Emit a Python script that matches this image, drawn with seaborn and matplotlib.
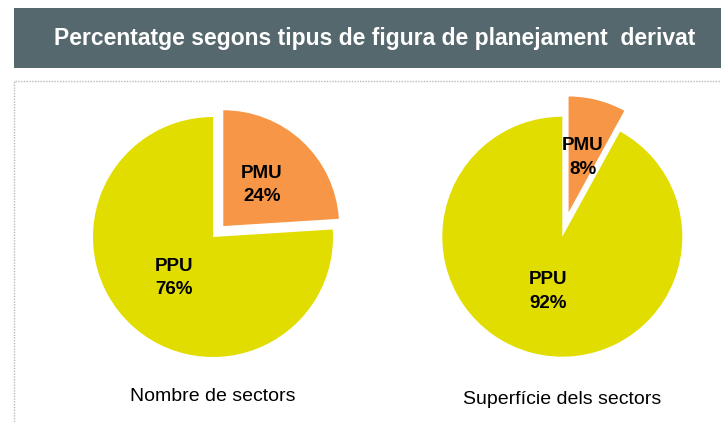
import matplotlib
matplotlib.use("Agg")
import matplotlib.pyplot as plt
from matplotlib.patches import Rectangle
import seaborn as sns

# ---- data ----
categories = ["PMU", "PPU"]
count_pct = [24, 76]      # Nombre de sectors
area_pct = [8, 92]        # Superfície dels sectors
subtitles = ["Nombre de sectors", "Superfície dels sectors"]
title = "Percentatge segons tipus de figura de planejament  derivat"

sns.set_theme(style="white")
plt.rcParams["font.family"] = ["Liberation Sans", "DejaVu Sans"]

palette = ["#f79646", "#e1dd00"]

W, H = 721, 423
fig = plt.figure(figsize=(W / 100, H / 100), dpi=100)
fig.patch.set_facecolor("white")

# title bar
fig.patches.append(Rectangle((14 / W, 1 - 68 / H), 1 - 14 / W, 60 / H,
                             transform=fig.transFigure, facecolor="#55686d",
                             edgecolor="none", zorder=0))
fig.text(375 / W, 1 - 39 / H, title, color="white", fontsize=16.5,
         fontweight="bold", ha="center", va="center")

# dotted frame
fig.patches.append(Rectangle((14 / W, -0.05), 1.2, (H - 81) / H + 0.05,
                             transform=fig.transFigure, facecolor="none",
                             edgecolor="#b8b8b8", linestyle=(0, (1, 1)),
                             linewidth=1.0, zorder=0))

def draw(cx, cy, values, explode, sub, sub_y):
    size = 300
    ax = fig.add_axes([(cx - size / 2) / W, (H - cy - size / 2) / H, size / W, size / H])
    labels = [f"{c}\n{v}%" for c, v in zip(categories, values)]
    wedges, texts = ax.pie(values, labels=labels, colors=palette, startangle=90,
                           counterclock=False, explode=[explode, 0], radius=1,
                           labeldistance=0.47,
                           textprops=dict(fontsize=13.5, fontweight="bold", color="black"),
                           wedgeprops=dict(linewidth=0))
    wedges[0].set_radius(0.965)
    for t in texts:
        t.set_ha("center")
        t.set_va("center")
        t.set_linespacing(1.5)
    ax.set_xlim(-1.25, 1.25)
    ax.set_ylim(-1.25, 1.25)
    ax.set_aspect("equal")
    ax.axis("off")
    ax.text(0, sub_y, sub, ha="center", va="center", fontsize=14,
            color="black", clip_on=False)

draw(213, 237, count_pct, 0.125, subtitles[0], -1.33)
draw(562.3, 236.7, area_pct, 0.21, subtitles[1], -1.355)

fig.savefig("out.png", dpi=100)
